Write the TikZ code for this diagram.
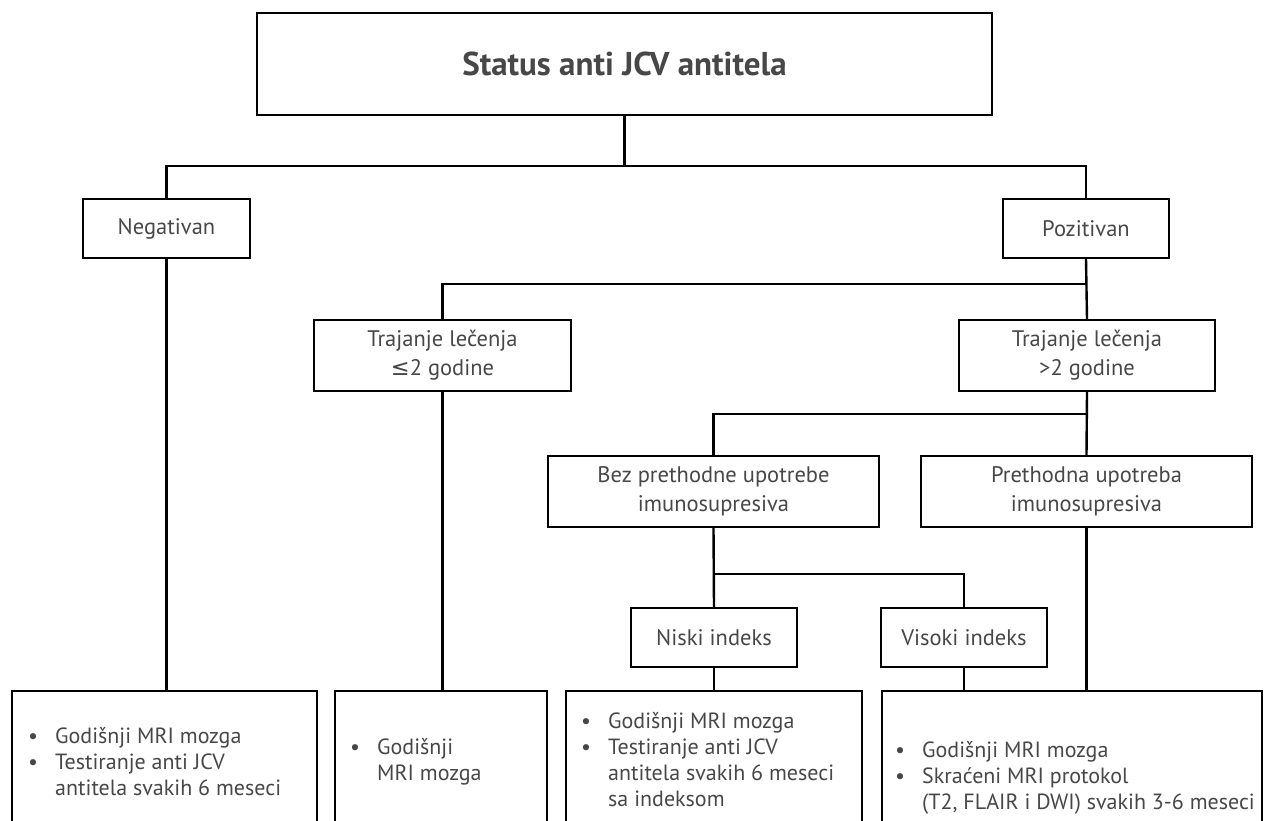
\documentclass[tikz,border=0pt]{standalone}
\usepackage{fontspec}
\setmainfont{PT Sans}
\newfontfamily\symfont{DejaVu Sans}
\usetikzlibrary{calc}
\definecolor{txtgray}{HTML}{474747}
\tikzstyle{box}=[draw=black,line width=2.4pt,inner sep=0pt,align=center,text=txtgray,font=\fontsize{22.5}{29}\selectfont]
\tikzstyle{resbox}=[draw=black,line width=2.4pt,inner sep=0pt,minimum height=200pt]
\tikzstyle{restext}=[anchor=base west,inner sep=0pt,text=txtgray,font=\fontsize{22}{26}\selectfont]
\tikzstyle{link}=[line width=2.4pt]
\newcommand{\itm}{\makebox[27pt][l]{\textbullet}}

\begin{document}
\begin{tikzpicture}[x=1pt,y=-1pt]
  \useasboundingbox (0,0) rectangle (1264,821);
  \clip (0,0) rectangle (1264,821);

  % TOP
  \node[box,minimum width=735,minimum height=102,font=\fontsize{33}{38}\selectfont\bfseries]
    (status) at (624.5,64) {Status anti JCV antitela};
  \node[box,minimum width=167,minimum height=59] (neg) at (166.5,228.5) {Negativan};
  \node[box,minimum width=166,minimum height=59] (poz) at (1086,228.5) {Pozitivan};

  % DURATION
  \node[box,minimum width=257,minimum height=71] (tr1) at (442.5,355.5)
    {Trajanje lečenja\\{\symfont ≤}2 godine};
  \node[box,minimum width=256,minimum height=71] (tr2) at (1087,355.5)
    {Trajanje lečenja\\>2 godine};
  \node[box,minimum width=331,minimum height=71] (bez) at (713.5,491.5)
    {Bez prethodne upotrebe\\imunosupresiva};
  \node[box,minimum width=331,minimum height=71] (pre) at (1086.5,491.5)
    {Prethodna upotreba\\imunosupresiva};
  \node[box,minimum width=166,minimum height=59] (nis) at (714,637.5) {Niski indeks};
  \node[box,minimum width=166,minimum height=59] (vis) at (964,637.5) {Visoki indeks};

  % RESULTS
  \node[resbox,minimum width=305] (res1) at (164.5,791) {};
  \node[resbox,minimum width=212] (res2) at (441,791) {};
  \node[resbox,minimum width=296] (res3) at (714,791) {};
  \node[resbox,minimum width=380] (res4) at (1072,791) {};

  \node[restext] (txt1) at (28,743) {\begin{tabular}[t]{@{}l@{}l@{}}
    \itm & Godišnji MRI mozga\\
    \itm & Testiranje anti JCV\\
         & antitela svakih 6 meseci\end{tabular}};
  \node[restext] (txt2) at (350,754) {\begin{tabular}[t]{@{}l@{}l@{}}
    \itm & Godišnji\\
         & MRI mozga\end{tabular}};
  \node[restext] (txt3) at (581,728) {\begin{tabular}[t]{@{}l@{}l@{}}
    \itm & Godišnji MRI mozga\\
    \itm & Testiranje anti JCV\\
         & antitela svakih 6 meseci\\
         & sa indeksom\end{tabular}};
  \node[restext] (txt4) at (895,757) {\begin{tabular}[t]{@{}l@{}l@{}}
    \itm & Godišnji MRI mozga\\
    \itm & Skraćeni MRI protokol\\
         & (T2, FLAIR i DWI) svakih 3-6 meseci\end{tabular}};

  % LINKS
  \coordinate (j1) at (624.5,166);
  \coordinate (j2) at (1086,284);
  \coordinate (j3) at (1087,414);
  \coordinate (j4) at (714,574);
  \draw[link] (status.south) -- (j1);
  \draw[link] (neg.north) |- (j1) -| (poz.north);
  \draw[link] (poz.south) -- (tr2.north);
  \draw[link] (tr1.north) |- (j2);
  \draw[link] (tr2.south) -- (pre.north);
  \draw[link] (bez.north) |- (j3);
  \draw[link] (bez.south) -- (nis.north);
  \draw[link] (j4) -| (vis.north);
  \draw[link] (neg.south) -- (neg.south |- res1.north);
  \draw[link] (tr1.south) -- (tr1.south |- res2.north);
  \draw[link] (nis.south) -- (nis.south |- res3.north);
  \draw[link] (vis.south) -- (vis.south |- res4.north);
  \draw[link] (pre.south) -- (pre.south |- res4.north);
\end{tikzpicture}
\end{document}
